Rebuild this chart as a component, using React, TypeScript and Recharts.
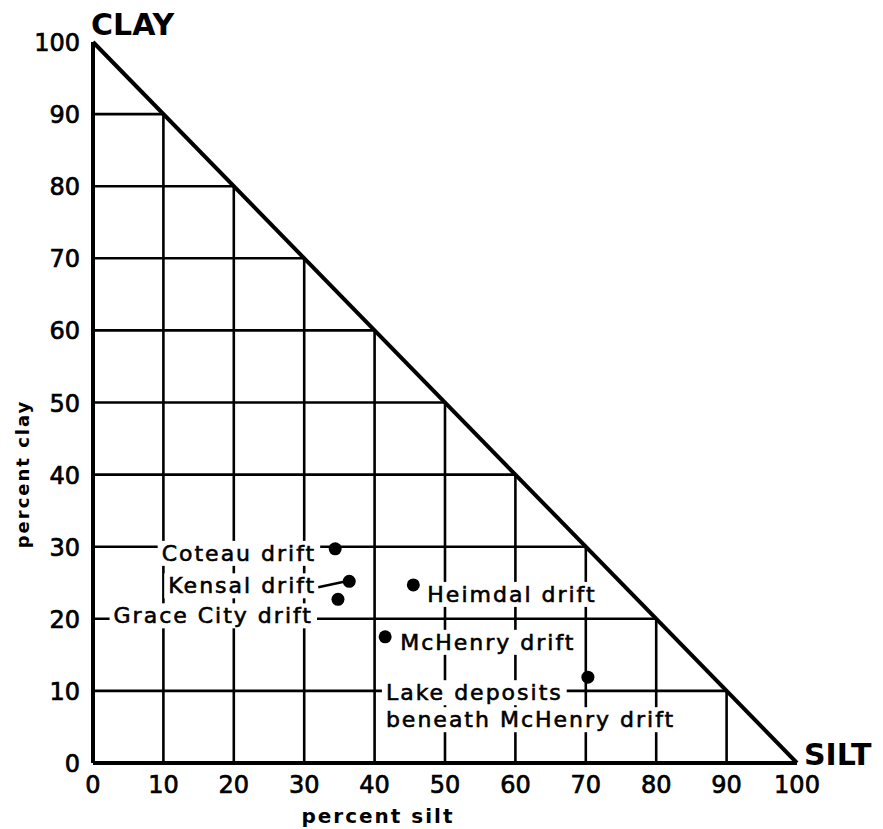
import { useLayoutEffect, useRef, useState } from "react";
import { ScatterChart, Scatter, XAxis, YAxis, ReferenceLine } from "recharts";

// percent silt / percent clay of each sample
const siltPct = [34.4, 36.4, 34.8, 45.5, 41.5, 70.3];
const clayPct = [29.7, 25.2, 22.7, 24.7, 17.5, 11.9];
const sampleNames = [
  "Coteau drift",
  "Kensal drift",
  "Grace City drift",
  "Heimdal drift",
  "McHenry drift",
  "Lake deposits\nbeneath McHenry drift",
];
const axisTicks = [0, 10, 20, 30, 40, 50, 60, 70, 80, 90, 100];
const gridLevels = [10, 20, 30, 40, 50, 60, 70, 80, 90];

const samples = sampleNames.map((name, i) => ({
  name,
  silt: siltPct[i],
  clay: clayPct[i],
}));

const FONT = "'DejaVu Sans', sans-serif";

// where each label sits relative to its dot (pixels)
type LabelPlace = {
  anchor: "start" | "end";
  dx: number;
  baselines: number[];
  leader?: [number, number, number, number];
};
const labelPlaces: Record<string, LabelPlace> = {
  "Coteau drift": { anchor: "end", dx: -19, baselines: [12] },
  "Kensal drift": { anchor: "end", dx: -33, baselines: [12], leader: [-31, 6, -3, 0] },
  "Grace City drift": { anchor: "end", dx: -25, baselines: [24] },
  "Heimdal drift": { anchor: "start", dx: 14, baselines: [17] },
  "McHenry drift": { anchor: "start", dx: 15, baselines: [13] },
  "Lake deposits\nbeneath McHenry drift": { anchor: "start", dx: -202, baselines: [23, 50] },
};

function BoxedText({ x, y, anchor, text }: { x: number; y: number; anchor: "start" | "end"; text: string }) {
  const ref = useRef<SVGTextElement>(null);
  const [box, setBox] = useState<{ x: number; y: number; w: number; h: number } | null>(null);
  useLayoutEffect(() => {
    if (ref.current) {
      const b = ref.current.getBBox();
      setBox({ x: b.x - 4, y: b.y, w: b.width + 8, h: b.height });
    }
  }, [x, y, text]);
  return (
    <g>
      {box && <rect x={box.x} y={box.y} width={box.w} height={box.h} fill="#fff" />}
      <text
        ref={ref}
        x={x}
        y={y}
        textAnchor={anchor}
        fontFamily={FONT}
        fontSize={22}
        letterSpacing={2}
        fill="#000"
        stroke="#000"
        strokeWidth={0.6}
      >
        {text}
      </text>
    </g>
  );
}

function SampleMark(props: any) {
  const { cx, cy, payload } = props;
  const place = labelPlaces[payload.name];
  const lines = String(payload.name).split("\n");
  return (
    <g>
      {lines.map((line, i) => (
        <BoxedText
          key={line}
          x={cx + place.dx}
          y={cy + place.baselines[i]}
          anchor={place.anchor}
          text={line}
        />
      ))}
      {place.leader && (
        <line
          x1={cx + place.leader[0]}
          y1={cy + place.leader[1]}
          x2={cx + place.leader[2]}
          y2={cy + place.leader[3]}
          stroke="#000"
          strokeWidth={2.5}
        />
      )}
      <circle cx={cx} cy={cy} r={6.5} fill="#000" />
    </g>
  );
}

const XTick = (props: any) => {
  const { x, y, payload } = props;
  return (
    <text
      x={x}
      y={y + 30}
      textAnchor="middle"
      fontFamily={FONT}
      fontSize={24}
      fill="#000"
      stroke="#000"
      strokeWidth={0.7}
    >
      {payload.value}
    </text>
  );
};

const YTick = (props: any) => {
  const { x, y, payload } = props;
  return (
    <text
      x={x - 13}
      y={y + 9}
      textAnchor="end"
      fontFamily={FONT}
      fontSize={24}
      fill="#000"
      stroke="#000"
      strokeWidth={0.7}
    >
      {payload.value}
    </text>
  );
};

export default function App() {
  return (
    <div style={{ position: "absolute", left: 0, top: 0, width: 883, height: 829, background: "#fff" }}>
      <ScatterChart width={883} height={829} margin={{ top: 42, right: 86, bottom: 26, left: 33 }}>
        <XAxis
          type="number"
          dataKey="silt"
          domain={[0, 100]}
          ticks={axisTicks}
          interval={0}
          tickSize={0}
          tickMargin={0}
          tickLine={false}
          tick={<XTick />}
          axisLine={{ stroke: "#000", strokeWidth: 4 }}
          height={40}
        />
        <YAxis
          type="number"
          dataKey="clay"
          domain={[0, 100]}
          ticks={axisTicks}
          interval={0}
          tickSize={0}
          tickMargin={0}
          tickLine={false}
          tick={<YTick />}
          axisLine={{ stroke: "#000", strokeWidth: 4 }}
          width={60}
        />
        {gridLevels.map((k) => (
          <ReferenceLine
            key={`h${k}`}
            segment={[{ x: 0, y: k }, { x: 100 - k, y: k }]}
            stroke="#000"
            strokeWidth={2.6}
          />
        ))}
        {gridLevels.map((k) => (
          <ReferenceLine
            key={`v${k}`}
            segment={[{ x: k, y: 0 }, { x: k, y: 100 - k }]}
            stroke="#000"
            strokeWidth={2.6}
          />
        ))}
        <ReferenceLine
          segment={[{ x: 0, y: 100 }, { x: 100, y: 0 }]}
          stroke="#000"
          strokeWidth={4}
        />
        <Scatter data={samples} shape={<SampleMark />} isAnimationActive={false} />
      </ScatterChart>
      <svg
        width={883}
        height={829}
        style={{ position: "absolute", left: 0, top: 0, pointerEvents: "none" }}
      >
        <text x={91} y={35} fontFamily={FONT} fontWeight="bold" fontSize={30} fill="#000">
          CLAY
        </text>
        <text x={804} y={765} fontFamily={FONT} fontWeight="bold" fontSize={30} fill="#000">
          SILT
        </text>
        <text
          x={378}
          y={823}
          textAnchor="middle"
          fontFamily={FONT}
          fontWeight="bold"
          fontSize={20}
          letterSpacing={2}
          fill="#000"
        >
          percent silt
        </text>
        <text
          x={29}
          y={474}
          textAnchor="middle"
          transform="rotate(-90 29 474)"
          fontFamily={FONT}
          fontWeight="bold"
          fontSize={18}
          letterSpacing={2}
          fill="#000"
        >
          percent clay
        </text>
      </svg>
    </div>
  );
}
